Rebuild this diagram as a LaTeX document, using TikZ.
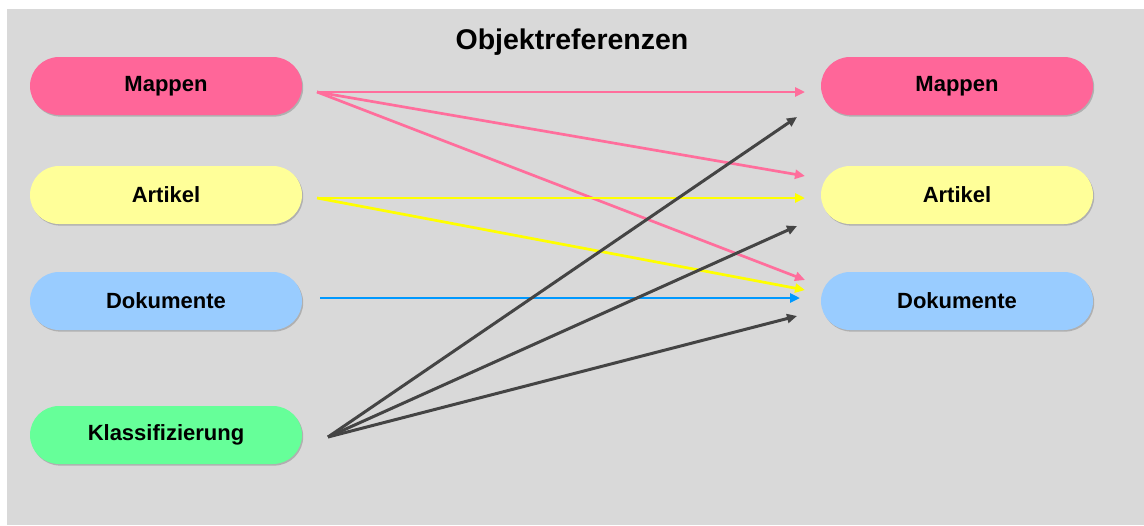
\documentclass[tikz,border=0pt]{standalone}
\usepackage{fontspec}
\setmainfont{Liberation Sans}
\usetikzlibrary{arrows.meta,shadows}
\newcommand{\figunit}{0.5pt}
\definecolor{mapcol}{HTML}{FF6699}
\definecolor{artcol}{HTML}{FFFF99}
\definecolor{dokcol}{HTML}{99CCFF}
\definecolor{klacol}{HTML}{66FF99}
\definecolor{bgcol}{HTML}{D9D9D9}
\definecolor{refmap}{HTML}{FF6E9C}
\definecolor{refart}{HTML}{FFFF00}
\definecolor{refdok}{HTML}{0099FF}
\definecolor{refkla}{HTML}{444444}
\tikzset{
	obj/.style={rectangle, rounded corners=14.5pt, minimum width=136pt, minimum height=29pt,
		inner sep=0pt, font=\bfseries\fontsize{11}{13}\selectfont,
		drop shadow={shadow xshift=0.6pt, shadow yshift=-0.8pt, fill=black!50, opacity=0.45}},
	ref/.style={-{Triangle[length=5pt,width=4.5pt]}, line width=1.35pt},
}

\begin{document}
\begin{tikzpicture}[x=\figunit,y=-\figunit]
	\useasboundingbox (0,0) rectangle (1144,525);
	\fill[bgcol] (7,9) rectangle (1144,525);
	\node[font=\bfseries\fontsize{14.25}{16}\selectfont] (title) at (572,42) {Objektreferenzen};

	% linke Seite
	\node[obj, fill=mapcol] (lmap) at (166,86) {Mappen};
	\node[obj, fill=artcol] (lart) at (166,195) {Artikel};
	\node[obj, fill=dokcol] (ldok) at (166,301) {Dokumente};
	\node[obj, fill=klacol] (lkla) at (166,435) {Klassifizierung};

	% rechte Seite
	\node[obj, fill=mapcol] (rmap) at (957,86) {Mappen};
	\node[obj, fill=artcol] (rart) at (957,195) {Artikel};
	\node[obj, fill=dokcol] (rdok) at (957,301) {Dokumente};

	% Anfangs- und Endpunkte der Pfeile
	\coordinate (mapout) at (317,92);
	\coordinate (artout) at (317,198);
	\coordinate (dokout) at (320,298);
	\coordinate (klaout) at (328,437);
	\coordinate (mapin1) at (805,92);
	\coordinate (mapin2) at (797,117);
	\coordinate (artin1) at (805,176);
	\coordinate (artin2) at (805,198);
	\coordinate (artin3) at (797,226);
	\coordinate (dokin1) at (805,280);
	\coordinate (dokin2) at (805,290);
	\coordinate (dokin3) at (800,298);
	\coordinate (dokin4) at (797,316);

	\draw[ref, refmap] (mapout) -- (mapin1);
	\draw[ref, refmap] (mapout) -- (artin1);
	\draw[ref, refmap] (mapout) -- (dokin1);
	\draw[ref, refart] (artout) -- (artin2);
	\draw[ref, refart] (artout) -- (dokin2);
	\draw[ref, refdok] (dokout) -- (dokin3);
	\draw[ref, refkla, line width=1.5pt] (klaout) -- (mapin2);
	\draw[ref, refkla, line width=1.5pt] (klaout) -- (artin3);
	\draw[ref, refkla, line width=1.5pt] (klaout) -- (dokin4);
\end{tikzpicture}
\end{document}
